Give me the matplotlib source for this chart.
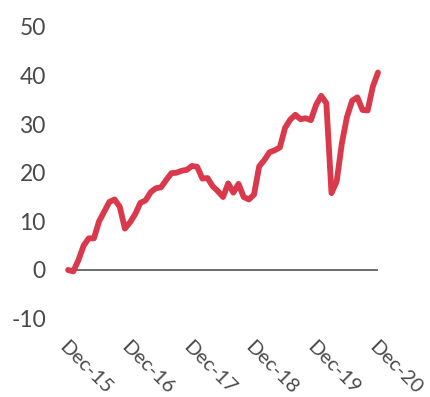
import matplotlib
matplotlib.use("Agg")
import matplotlib.pyplot as plt
import numpy as np

# 数据: Dec-15 到 Dec-20 的月度数值
values = [0, -0.3, 2, 5, 6.5, 6.5, 10, 12, 14, 14.5, 13, 8.5,
          9.8, 11.5, 13.8, 14.3, 16, 16.8, 17, 18.5, 19.9, 20, 20.4, 20.6,
          21.4, 21.2, 18.8, 18.9, 17.2, 16.2, 15, 17.8, 15.9, 17.7, 15, 14.5,
          15.5, 21.3, 22.6, 24.2, 24.6, 25.2, 29.2, 30.9, 31.9, 31, 31.2, 30.8,
          33.9, 35.8, 34.3, 15.8, 18.2, 26, 31.5, 34.8, 35.5, 32.9, 32.8, 37.7,
          40.6]
tick_labels = ["Dec-15", "Dec-16", "Dec-17", "Dec-18", "Dec-19", "Dec-20"]
yticks = [-10, 0, 10, 20, 30, 40, 50]

plt.rcParams['font.family'] = ['Lato', 'DejaVu Sans']

fig = plt.figure(figsize=(4.31, 3.97), dpi=100)
ax = fig.add_axes([0.158, 0.1975, 0.719, 0.735])

months = np.arange(len(values))
ax.axhline(0, color="#555555", lw=1.2, zorder=1)
ax.plot(months, values, color="#d9394b", lw=4.2, solid_capstyle="round",
        solid_joinstyle="round", clip_on=False, zorder=2)

ax.set_xlim(0, 60)
ax.set_ylim(-10, 50)
ax.set_yticks(yticks)
ax.set_yticklabels([str(v) for v in yticks], fontsize=16.5, color="#4a4a4a")
ax.set_xticks(np.arange(0, 61, 12))
ax.set_xticklabels(tick_labels, fontsize=14.5, color="#4a4a4a", rotation=-45,
                   ha="left", rotation_mode="anchor")
ax.tick_params(axis="both", length=0)
ax.tick_params(axis="y", pad=16)
ax.tick_params(axis="x", pad=14)
for s in ax.spines.values():
    s.set_visible(False)

plt.savefig("out.png", dpi=100)
